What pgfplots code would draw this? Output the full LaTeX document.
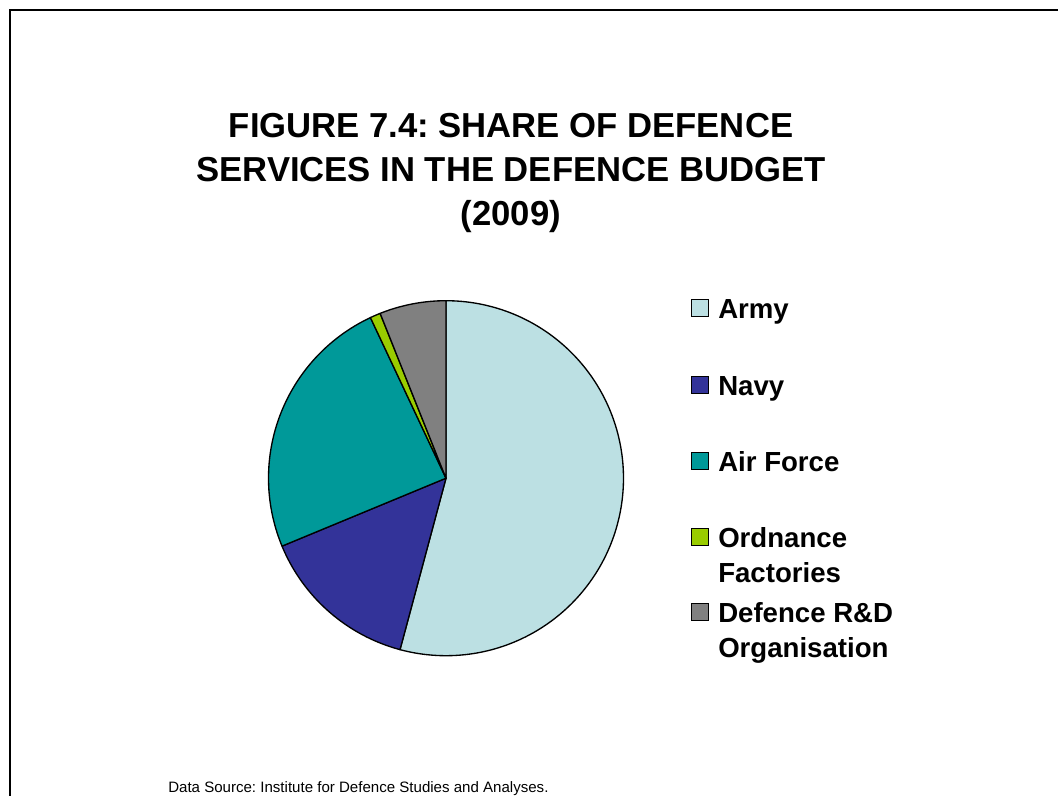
\documentclass[border=0pt]{standalone}
\usepackage{fontspec}
\setmainfont{Liberation Sans}
\usepackage{pgfplots}
\pgfplotsset{compat=1.18}
\definecolor{armyc}{RGB}{188,224,227}
\definecolor{navyc}{RGB}{51,51,153}
\definecolor{airc}{RGB}{0,153,153}
\definecolor{ordc}{RGB}{153,204,0}
\definecolor{rndc}{RGB}{128,128,128}
% shares of the defence budget (percent)
\def\army{54.17}
\def\navy{14.58}
\def\air{24.25}
\def\ord{0.95}
\def\rnd{6.05}
\frenchspacing
\begin{document}
\begin{tikzpicture}
\useasboundingbox (0pt,0pt) rectangle (793.5pt,-597pt);
\draw[line width=1.8pt] (7.5pt,-600pt) -- (7.5pt,-7.5pt) -- (796pt,-7.5pt);
% title
\node[anchor=base, font=\fontsize{26}{30}\selectfont\bfseries] at (383.25pt,-102.75pt) {FIGURE 7.4: SHARE OF DEFENCE};
\node[anchor=base, font=\fontsize{26}{30}\selectfont\bfseries] at (383.25pt,-135.75pt) {SERVICES IN THE DEFENCE BUDGET};
\node[anchor=base, font=\fontsize{26}{30}\selectfont\bfseries] at (383.25pt,-168.75pt) {(2009)};
% angles
\pgfmathsetmacro\aA{90-3.6*\army}
\pgfmathsetmacro\aB{\aA-3.6*\navy}
\pgfmathsetmacro\aC{\aB-3.6*\air}
\pgfmathsetmacro\aD{\aC-3.6*\ord}
\pgfmathsetmacro\aE{\aD-3.6*\rnd}
\begin{axis}[at={(334.5pt,-358.65pt)}, anchor=center,
  width=266.25pt, height=266.25pt, scale only axis,
  xmin=-1, xmax=1, ymin=-1, ymax=1, hide axis, clip=false]
\addplot[fill=armyc, draw=black, line width=1pt, line join=round, domain=\aA:90, samples=150, variable=\t] ({cos(\t)},{sin(\t)}) -- (axis cs:0,0) -- cycle;
\addplot[fill=navyc, draw=black, line width=1pt, line join=round, domain=\aB:\aA, samples=60, variable=\t] ({cos(\t)},{sin(\t)}) -- (axis cs:0,0) -- cycle;
\addplot[fill=airc, draw=black, line width=1pt, line join=round, domain=\aC:\aB, samples=90, variable=\t] ({cos(\t)},{sin(\t)}) -- (axis cs:0,0) -- cycle;
\addplot[fill=ordc, draw=black, line width=1pt, line join=round, domain=\aD:\aC, samples=8, variable=\t] ({cos(\t)},{sin(\t)}) -- (axis cs:0,0) -- cycle;
\addplot[fill=rndc, draw=black, line width=1pt, line join=round, domain=\aE:\aD, samples=30, variable=\t] ({cos(\t)},{sin(\t)}) -- (axis cs:0,0) -- cycle;
\end{axis}
% legend
\begin{scope}[every node/.style={anchor=base west, inner sep=0pt, font=\fontsize{20.7}{24}\selectfont\bfseries}]
\filldraw[fill=armyc, draw=black, line width=0.75pt] (518.25pt,-224.25pt) rectangle (531pt,-237pt);
\node at (538.5pt,-238.5pt) {Army};
\filldraw[fill=navyc, draw=black, line width=0.75pt] (518.25pt,-282pt) rectangle (531pt,-294.75pt);
\node at (538.5pt,-296.25pt) {Navy};
\filldraw[fill=airc, draw=black, line width=0.75pt] (518.25pt,-339pt) rectangle (531pt,-351.75pt);
\node at (538.5pt,-353.25pt) {Air Force};
\filldraw[fill=ordc, draw=black, line width=0.75pt] (518.25pt,-396pt) rectangle (531pt,-408.75pt);
\node at (538.5pt,-410.25pt) {Ordnance};
\node at (538.5pt,-436.5pt) {Factories};
\filldraw[fill=rndc, draw=black, line width=0.75pt] (518.25pt,-452.25pt) rectangle (531pt,-465pt);
\node at (538.5pt,-466.5pt) {Defence R\&D};
\node at (538.5pt,-492.75pt) {Organisation};
\end{scope}
\node[anchor=base west, inner sep=0pt, font=\fontsize{11.3}{13}\selectfont] at (126pt,-594pt) {Data Source: Institute for Defence Studies and Analyses.};
\end{tikzpicture}
\end{document}
